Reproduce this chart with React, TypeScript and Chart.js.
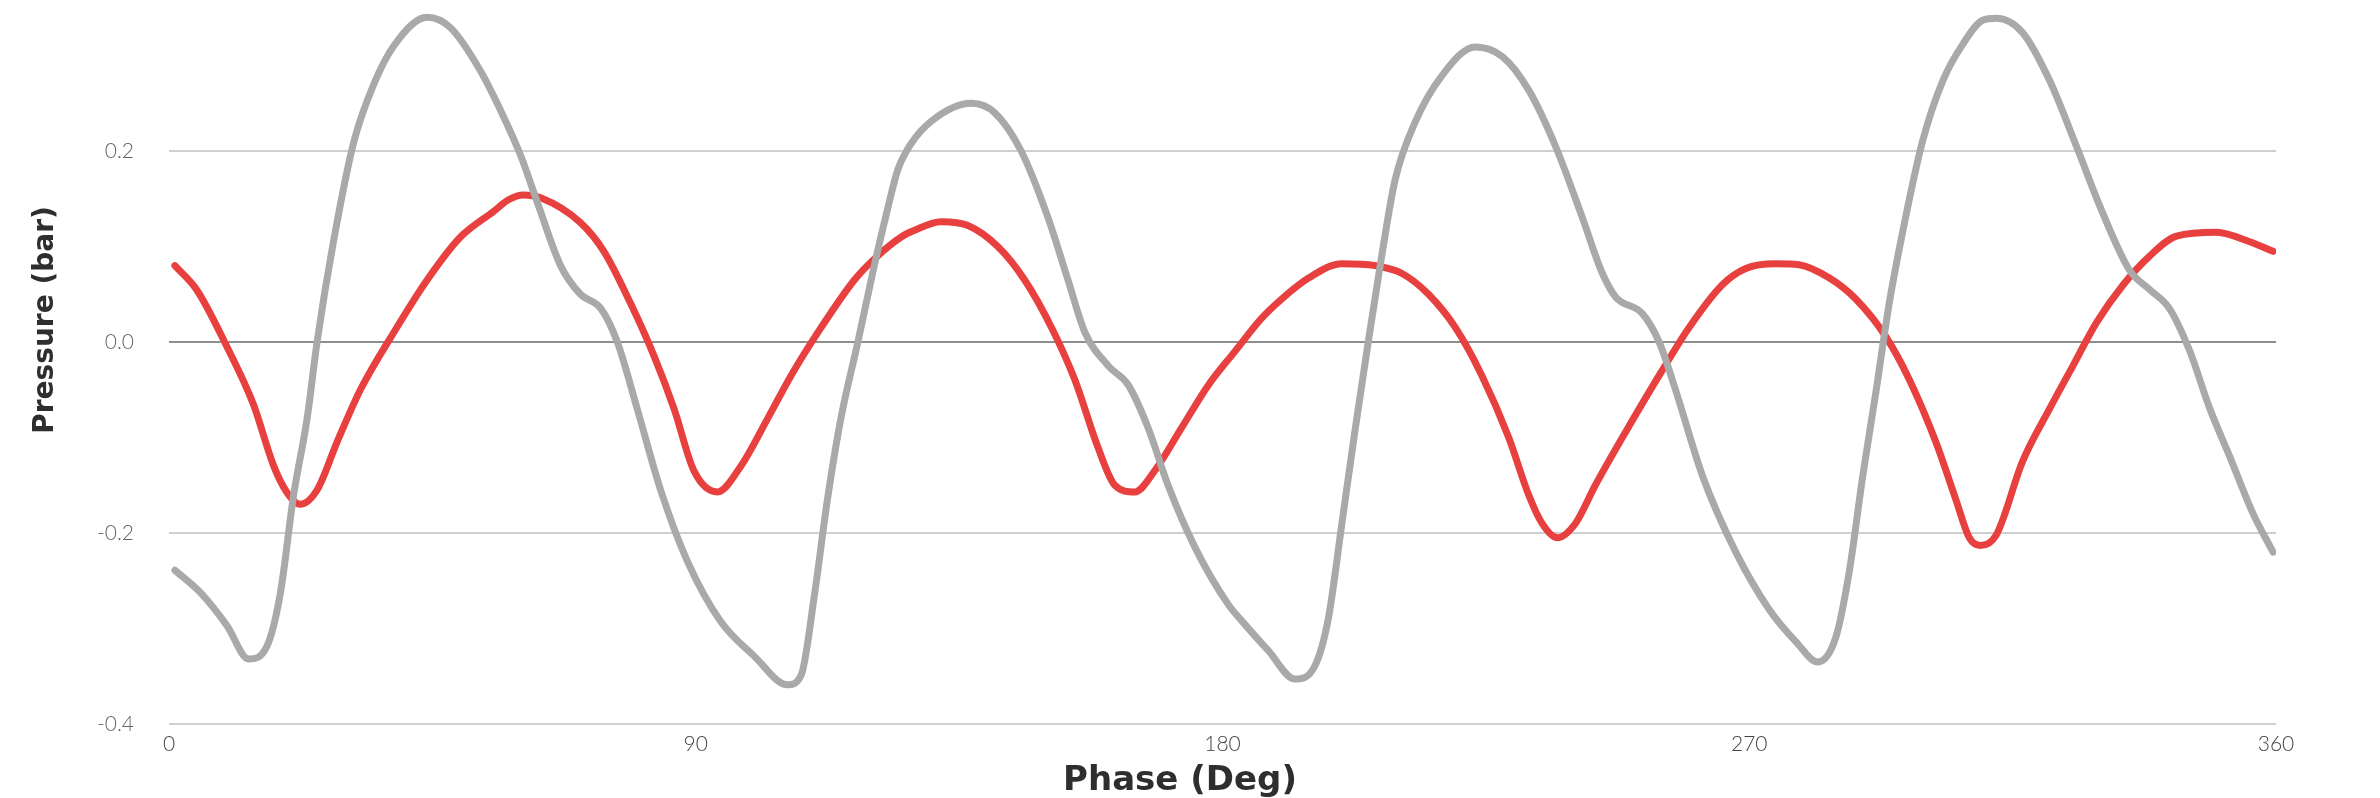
import React, { useEffect, useRef } from 'react';
import { Chart, registerables } from 'chart.js';

Chart.register(...registerables);

// axis ticks and titles
const phaseTicks = [0, 90, 180, 270, 360];
const pressureTicks = [-0.4, -0.2, 0.0, 0.2];
const xTitle = 'Phase (Deg)';
const yTitle = 'Pressure (bar)';

// red trace
const redPhase = [
  1.0, 4.7, 9.9, 14.4, 17.9, 20.1, 22.4, 25.3, 28.7, 32.7, 38.4, 44.1, 49.8, 55.5, 58.0,
  60.6, 63.5, 70.3, 74.3, 78.9, 82.9, 86.3, 89.7, 93.7, 97.7, 102.3, 106.3, 111.4,
  117.1, 120.5, 125.1, 127.4, 131.9, 136.5, 141.6, 146.2, 150.8, 154.8, 158.7, 161.6,
  165.0, 168.4, 173.0, 177.6, 182.1, 186.7, 190.1, 194.7, 200.4, 206.1, 210.6, 215.2,
  219.8, 224.3, 228.9, 232.3, 234.6, 237.2, 240.3, 243.7, 248.8, 255.1, 259.7, 265.4,
  269.4, 274.5, 278.5, 283.7, 288.2, 293.4, 297.4, 301.9, 305.3, 307.6, 309.5, 312.2,
  316.7, 321.3, 325.3, 329.3, 333.9, 338.4, 343.0, 349.8, 355.5, 359.5,
];
const redPressure = [
  0.080, 0.055, -0.005, -0.065, -0.130, -0.157, -0.170, -0.155, -0.105, -0.050, 0.010, 0.065, 0.110, 0.137, 0.149,
  0.154, 0.151, 0.125, 0.095, 0.040, -0.015, -0.070, -0.135, -0.157, -0.130, -0.080, -0.035, 0.015,
  0.065, 0.087, 0.110, 0.117, 0.126, 0.122, 0.100, 0.065, 0.015, -0.040, -0.110, -0.150,
  -0.157, -0.135, -0.090, -0.045, -0.010, 0.025, 0.045, 0.067, 0.082, 0.080, 0.072, 0.050,
  0.015, -0.035, -0.100, -0.160, -0.190, -0.205, -0.190, -0.150, -0.095, -0.030, 0.015, 0.060,
  0.077, 0.082, 0.081, 0.067, 0.045, 0.005, -0.040, -0.105, -0.165, -0.205, -0.213, -0.202,
  -0.125, -0.070, -0.025, 0.020, 0.060, 0.090, 0.111, 0.115, 0.105, 0.095,
];

// grey trace
const greyPhase = [
  1.0, 5.3, 9.9, 13.6, 16.7, 19.0, 21.3, 23.6, 25.3, 28.1, 31.6, 35.0, 38.4, 44.1, 48.1,
  53.2, 57.0, 60.1, 63.0, 66.9, 70.3, 73.8, 76.6, 80.0, 84.0, 88.6, 94.3, 100.0, 105.7,
  108.0, 110.3, 112.5, 114.8, 117.7, 120.5, 122.8, 124.5, 126.6, 130.4, 137.1, 141.1,
  145.6, 150.2, 153.6, 156.5, 160.5, 163.9, 167.3, 170.7, 175.3, 181.0, 183.3, 187.8,
  192.4, 195.8, 198.1, 200.4, 202.7, 204.9, 207.2, 209.5, 212.9, 217.5, 223.2, 227.8,
  232.3, 236.9, 241.5, 244.9, 247.2, 251.7, 254.6, 257.4, 262.0, 267.7, 273.4, 278.0,
  281.7, 284.8, 287.1, 289.4, 291.7, 293.9, 296.2, 299.6, 303.1, 306.5, 309.9, 312.2,
  316.7, 321.3, 325.9, 330.4, 335.0, 338.4, 341.8, 345.3, 348.7, 352.1, 356.1, 359.5,
];
const greyPressure = [
  -0.239, -0.262, -0.297, -0.332, -0.319, -0.264, -0.160, -0.080, 0.000, 0.105, 0.210, 0.270, 0.310, 0.340, 0.329,
  0.284, 0.238, 0.195, 0.145, 0.080, 0.050, 0.035, 0.000, -0.070, -0.155, -0.230, -0.293, -0.329, -0.359,
  -0.349, -0.264, -0.165, -0.080, 0.000, 0.080, 0.140, 0.180, 0.206, 0.232, 0.250, 0.240,
  0.200, 0.130, 0.065, 0.010, -0.025, -0.045, -0.090, -0.150, -0.215, -0.275, -0.292, -0.323,
  -0.353, -0.339, -0.289, -0.190, -0.090, 0.000, 0.090, 0.170, 0.230, 0.279, 0.309, 0.299,
  0.264, 0.205, 0.130, 0.072, 0.047, 0.030, 0.000, -0.050, -0.140, -0.220, -0.280, -0.314,
  -0.335, -0.309, -0.240, -0.140, -0.050, 0.040, 0.115, 0.210, 0.274, 0.312, 0.337, 0.339,
  0.324, 0.274, 0.205, 0.135, 0.075, 0.055, 0.035, -0.010, -0.070, -0.120, -0.180, -0.220,
];

const toPoints = (xs: number[], ys: number[]) => xs.map((x, i) => ({ x, y: ys[i] }));

// axis titles drawn by hand so they sit where the original has them
const axisTitles = {
  id: 'axisTitles',
  afterDraw(chart: Chart) {
    const { ctx } = chart;
    ctx.save();
    ctx.fillStyle = '#2e2e2e';
    ctx.textAlign = 'center';
    ctx.textBaseline = 'middle';
    ctx.font = 'bold 34px "DejaVu Sans"';
    ctx.fillText(xTitle, 1180, 781);
    ctx.translate(46, 320);
    ctx.rotate(-Math.PI / 2);
    ctx.font = 'bold 28px "DejaVu Sans"';
    ctx.fillText(yTitle, 0, 0);
    ctx.restore();
  },
};

const tickFont = { family: 'Lato', size: 21, weight: 300 as const };

const PressureChart: React.FC = () => {
  const chartRef = useRef<HTMLCanvasElement | null>(null);
  const chartInstance = useRef<Chart | null>(null);

  useEffect(() => {
    if (chartInstance.current) {
      chartInstance.current.destroy();
    }
    const ctx = chartRef.current?.getContext('2d');
    if (!ctx) return;

    chartInstance.current = new Chart(ctx, {
      type: 'line',
      data: {
        datasets: [
          {
            label: 'Grey',
            data: toPoints(greyPhase, greyPressure),
            borderColor: '#a9a9a9',
            backgroundColor: '#a9a9a9',
          },
          {
            label: 'Red',
            data: toPoints(redPhase, redPressure),
            borderColor: '#e8403f',
            backgroundColor: '#e8403f',
          },
        ],
      },
      options: {
        animation: false,
        responsive: true,
        maintainAspectRatio: false,
        devicePixelRatio: 1,
        layout: { padding: { top: 3, right: 104, left: 0, bottom: 0 } },
        elements: {
          point: { radius: 0 },
          line: {
            borderWidth: 7,
            cubicInterpolationMode: 'monotone',
            borderCapStyle: 'round',
            borderJoinStyle: 'round',
          },
        },
        plugins: {
          legend: { display: false },
          tooltip: { enabled: false },
        },
        scales: {
          x: {
            type: 'linear',
            min: 0,
            max: 360,
            afterBuildTicks: (scale) => {
              scale.ticks = phaseTicks.map((value) => ({ value }));
            },
            afterFit: (scale) => {
              scale.height = 74;
            },
            grid: { display: false, drawTicks: false },
            border: { display: false },
            ticks: {
              padding: 8,
              color: '#444',
              font: tickFont,
              maxRotation: 0,
              autoSkip: false,
            },
          },
          y: {
            min: -0.4,
            max: 0.355,
            afterBuildTicks: (scale) => {
              scale.ticks = pressureTicks.map((value) => ({ value }));
            },
            afterFit: (scale) => {
              // fixed gutter; the big tick padding must not eat into the plot height
              scale.width = 169;
              scale.paddingTop = 0;
              scale.paddingBottom = 0;
            },
            grid: {
              drawTicks: false,
              lineWidth: 2,
              color: (c) => (c.tick && c.tick.value === 0 ? '#8e8e8e' : '#cfcfcf'),
            },
            border: { display: false },
            ticks: {
              padding: 35,
              color: '#666',
              font: tickFont,
              callback: (value) => Number(value).toFixed(1),
            },
          },
        },
      },
      plugins: [axisTitles],
    });

    return () => {
      if (chartInstance.current) {
        chartInstance.current.destroy();
        chartInstance.current = null;
      }
    };
  }, []);

  return (
    <div style={{ position: 'fixed', left: 0, top: 0, width: 2380, height: 798, background: '#fff' }}>
      <canvas ref={chartRef} />
    </div>
  );
};

export default function App() {
  return <PressureChart />;
}
